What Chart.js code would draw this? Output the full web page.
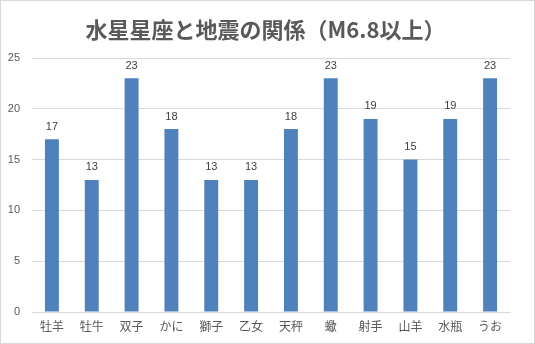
<!DOCTYPE html>
<html>
<head>
<meta charset="utf-8">
<script src="https://cdn.jsdelivr.net/npm/chart.js@4"></script>
<style>
  html, body { margin: 0; padding: 0; background: #fff; }
  #wrap { width: 533px; height: 342px; border: 1px solid #d9d9d9; }
</style>
</head>
<body>
<div id="wrap"><canvas id="quakeChart" width="533" height="342"></canvas></div>
<script>
const chartTitle = '水星星座と地震の関係（M6.8以上）';
const signs = ['牡羊', '牡牛', '双子', 'かに', '獅子', '乙女', '天秤', '蠍', '射手', '山羊', '水瓶', 'うお'];
const quakeCounts = [17, 13, 23, 18, 13, 13, 18, 23, 19, 15, 19, 23];
const yTicks = [0, 5, 10, 15, 20, 25];

const textColor = '#595959';
const numFont = "'Liberation Sans', 'Noto Sans CJK JP', sans-serif";

// value labels above each bar + title (Excel centres it a bit right of the plot)
const barLabels = {
  id: 'barLabels',
  afterDatasetsDraw(chart) {
    const c = chart.ctx;
    const meta = chart.getDatasetMeta(0);
    c.save();
    c.fillStyle = '#404040';
    c.font = '11px ' + numFont;
    c.textAlign = 'center';
    c.textBaseline = 'bottom';
    meta.data.forEach((bar, i) => {
      c.fillText(quakeCounts[i], bar.x, bar.y - 7);
    });

    c.fillStyle = textColor;
    c.font = "bold 22px 'Noto Sans CJK JP', sans-serif";
    c.textBaseline = 'middle';
    c.fillText(chartTitle, chart.width / 2 - 2, 29);
    c.restore();
  }
};

const ctx = document.getElementById('quakeChart').getContext('2d');

new Chart(ctx, {
  type: 'bar',
  data: {
    labels: signs,
    datasets: [{
      data: quakeCounts,
      backgroundColor: '#4f81bd',
      categoryPercentage: 1,
      barPercentage: 0.35
    }]
  },
  options: {
    responsive: false,
    animation: false,
    layout: { padding: { left: 0, right: 24, top: 57, bottom: 0 } },
    scales: {
      x: {
        grid: { display: false, drawTicks: false },
        border: { color: '#d9d9d9' },
        ticks: {
          color: textColor,
          font: { family: numFont, size: 12 },
          padding: 8,
          maxRotation: 0,
          autoSkip: false
        },
        afterFit: (scale) => { scale.height = 31; }
      },
      y: {
        min: 0,
        max: 25,
        afterBuildTicks: (scale) => { scale.ticks = yTicks.map(v => ({ value: v })); },
        grid: { color: '#d9d9d9', drawTicks: false },
        border: { display: false },
        ticks: {
          color: textColor,
          font: { family: numFont, size: 11 },
          padding: 12
        },
        afterFit: (scale) => { scale.width = 31; }
      }
    },
    plugins: {
      legend: { display: false },
      tooltip: { enabled: false },
      title: { display: false }
    }
  },
  plugins: [barLabels]
});
</script>
</body>
</html>
